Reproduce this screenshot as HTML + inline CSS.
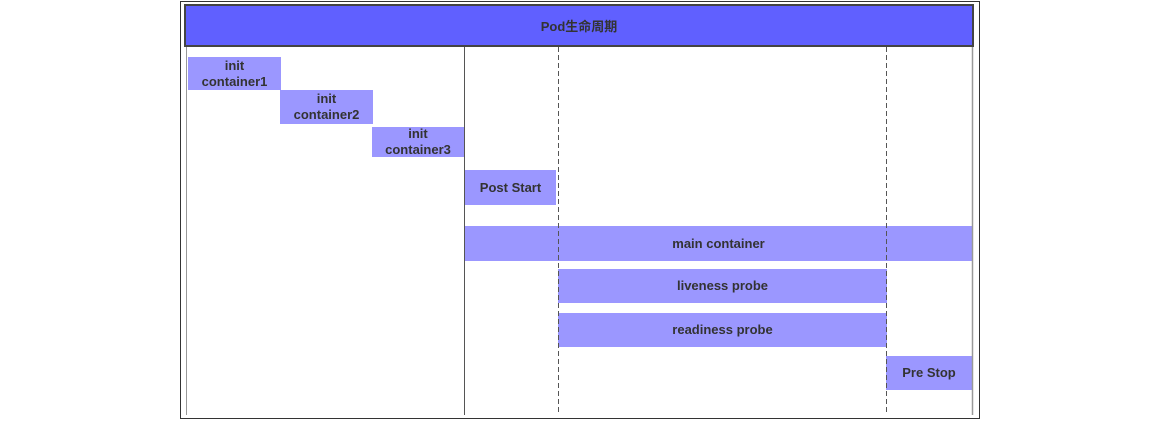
<!DOCTYPE html>
<html><head><meta charset="utf-8"><style>
body{margin:0;width:1157px;height:427px;background:#fff;position:relative;overflow:hidden;font-family:"Liberation Sans","Noto Sans CJK SC",sans-serif;}
.a{position:absolute;box-sizing:border-box;}
.b{position:absolute;background:#9b97ff;color:#333;font-weight:bold;font-size:13px;display:flex;align-items:center;justify-content:center;text-align:center;line-height:16px;}
</style></head><body>
<div class="a" style="left:180px;top:1px;width:800px;height:418px;border:1px solid #333;"></div>
<div class="a" style="left:184px;top:4px;width:790px;height:43px;border:2px solid #444;background:#6060ff;color:#333;font-weight:bold;font-size:13px;display:flex;align-items:center;justify-content:center;">Pod生命周期</div>
<div class="b" style="left:188px;top:57px;width:93px;height:33px;">init<br>container1</div>
<div class="b" style="left:280px;top:90px;width:93px;height:34px;">init<br>container2</div>
<div class="b" style="left:372px;top:127px;width:92px;height:30px;">init<br>container3</div>
<div class="b" style="left:465px;top:170px;width:91px;height:35px;">Post Start</div>
<div class="b" style="left:465px;top:226px;width:507px;height:35px;">main container</div>
<div class="b" style="left:558px;top:269px;width:329px;height:34px;">liveness probe</div>
<div class="b" style="left:558px;top:313px;width:329px;height:34px;">readiness probe</div>
<div class="b" style="left:886px;top:356px;width:86px;height:34px;">Pre Stop</div>
<svg class="a" style="left:0;top:0" width="1157" height="427">
<line x1="186.5" y1="47" x2="186.5" y2="415" stroke="#999" stroke-width="1"/>
<line x1="972.5" y1="47" x2="972.5" y2="415" stroke="#999" stroke-width="1.5"/>
<line x1="464.5" y1="47" x2="464.5" y2="415" stroke="#555" stroke-width="1"/>
<line x1="558.5" y1="47" x2="558.5" y2="415" stroke="#555" stroke-width="1" stroke-dasharray="5,3"/>
<line x1="886.5" y1="47" x2="886.5" y2="415" stroke="#555" stroke-width="1" stroke-dasharray="5,3"/>
</svg>
</body></html>
